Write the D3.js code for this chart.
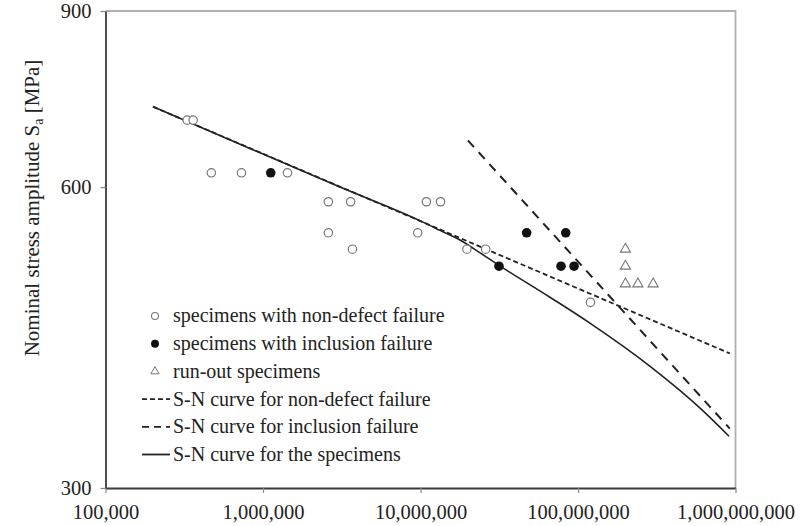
<!DOCTYPE html>
<html>
<head>
<meta charset="utf-8">
<script src="https://cdn.jsdelivr.net/npm/d3@7"></script>
<style>
  body { margin: 0; background: #fff; }
  text { font-family: "Liberation Serif", "Times New Roman", serif; }
</style>
</head>
<body>
<svg id="chart" width="811" height="526"></svg>
<script>
// Axis ticks
const xTicks = [1e5, 1e6, 1e7, 1e8, 1e9];
const yTicks = [300, 600, 900];

// Specimens with non-defect failure: cycles to failure, stress amplitude (MPa)
const nonDefectN = [3.3e5, 3.6e5, 4.7e5, 7.3e5, 1.43e6, 2.6e6, 3.6e6, 1.09e7, 1.34e7, 2.6e6, 3.7e6, 9.6e6, 1.97e7, 2.59e7, 1.2e8];
const nonDefectS = [700, 700, 620, 620, 620, 580, 580, 580, 580, 540, 520, 540, 520, 520, 460];

// Specimens with inclusion failure
const inclusionN = [1.12e6, 3.15e7, 4.72e7, 8.36e7, 7.8e7, 9.44e7];
const inclusionS = [620, 500, 540, 540, 500, 500];

// Run-out specimens
const runoutN = [2e8, 2e8, 2e8, 2.4e8, 3e8];
const runoutS = [520, 500, 480, 480, 480];

// S-N curves
const curveNonDefectN = [2e5, 9.2e8];
const curveNonDefectS = [722, 409];
const curveInclusionN = [2e7, 9.2e8];
const curveInclusionS = [668, 344];
const curveAllN = [2e5, 3e6, 1e7, 1.33e7, 1.86e7, 2.39e7, 3.15e7, 6.64e7, 1.19e8, 2.87e8, 5.96e8, 9.1e8];
const curveAllS = [722, 601, 555, 543, 529, 515.5, 501, 465.5, 438.6, 397, 360.6, 338];

// Legend entries
const legendLabels = [
  "specimens with non-defect failure",
  "specimens with inclusion failure",
  "run-out specimens",
  "S-N curve for non-defect failure",
  "S-N curve for inclusion failure",
  "S-N curve for the specimens"
];

const svg = d3.select("#chart");
const plotLeft = 105.5, plotRight = 735.5, plotTop = 11, plotBottom = 488;

const x = d3.scaleLog().domain([1e5, 1e9]).range([plotLeft, plotRight]);
const y = d3.scaleLog().domain([300, 900]).range([plotBottom, plotTop]);

const zip = (a, b) => a.map((v, i) => [v, b[i]]);

// Frame: light top/right borders
svg.append("path")
  .attr("d", `M${plotLeft},${plotTop}H${plotRight}V${plotBottom}`)
  .attr("fill", "none").attr("stroke", "#b0b0b0").attr("stroke-width", 1.8);

// Axes
const fmt = d3.format(",");
const xAxis = svg.append("g").attr("transform", `translate(0,${plotBottom})`)
  .call(d3.axisBottom(x).tickValues(xTicks).tickFormat(fmt).tickSize(5).tickSizeOuter(0));
const yAxis = svg.append("g").attr("transform", `translate(${plotLeft},0)`)
  .call(d3.axisLeft(y).tickValues(yTicks).tickFormat(d3.format("d")).tickSize(5).tickSizeOuter(0));

[xAxis, yAxis].forEach(g => {
  g.select(".domain").attr("stroke", "#3a3a3a").attr("stroke-width", 1.8);
  g.selectAll(".tick line").attr("stroke", "#888").attr("stroke-width", 1.2);
  g.selectAll(".tick text").attr("font-size", 20.5).attr("fill", "#222")
    .attr("font-family", "Liberation Serif");
});
xAxis.selectAll(".tick text").attr("dy", "1.1em");
yAxis.selectAll(".tick text").attr("x", -14).attr("dy", "0.3em");

// Y-axis title
const title = svg.append("text")
  .attr("transform", `translate(39,208) rotate(-90)`)
  .attr("text-anchor", "middle")
  .attr("font-size", 21).attr("fill", "#222");
title.append("tspan").text("Nominal stress amplitude S");
title.append("tspan").attr("font-size", 14).attr("dy", 4).text("a");
title.append("tspan").attr("dy", -4).text(" [MPa]");

// Curves
const line = d3.line().x(d => x(d[0])).y(d => y(d[1]));
const smooth = d3.line().x(d => x(d[0])).y(d => y(d[1])).curve(d3.curveMonotoneX);

svg.append("path").datum(zip(curveAllN, curveAllS))
  .attr("d", smooth).attr("fill", "none").attr("stroke", "#222").attr("stroke-width", 1.6);
svg.append("path").datum(zip(curveNonDefectN, curveNonDefectS))
  .attr("d", line).attr("fill", "none").attr("stroke", "#222").attr("stroke-width", 1.8)
  .attr("stroke-dasharray", "5,3");
svg.append("path").datum(zip(curveInclusionN, curveInclusionS))
  .attr("d", line).attr("fill", "none").attr("stroke", "#222").attr("stroke-width", 2)
  .attr("stroke-dasharray", "9,7");

// Markers
const r = 4.2;
svg.append("g").selectAll("circle").data(zip(nonDefectN, nonDefectS)).join("circle")
  .attr("cx", d => x(d[0])).attr("cy", d => y(d[1])).attr("r", r)
  .attr("fill", "#fff").attr("stroke", "#777").attr("stroke-width", 1.2);
svg.append("g").selectAll("circle").data(zip(inclusionN, inclusionS)).join("circle")
  .attr("cx", d => x(d[0])).attr("cy", d => y(d[1])).attr("r", r + 0.6)
  .attr("fill", "#111");
const tri = d3.symbol().type(d3.symbolTriangle).size(45);
svg.append("g").selectAll("path").data(zip(runoutN, runoutS)).join("path")
  .attr("transform", d => `translate(${x(d[0])},${y(d[1])})`)
  .attr("d", tri).attr("fill", "#fff").attr("stroke", "#777").attr("stroke-width", 1.1);

// Legend
const lg = svg.append("g");
const lx = 155, ly0 = 316, ldy = 27.7;
legendLabels.forEach((label, i) => {
  const yy = ly0 + i * ldy;
  if (i === 0) lg.append("circle").attr("cx", lx).attr("cy", yy).attr("r", 3.5)
    .attr("fill", "#fff").attr("stroke", "#777").attr("stroke-width", 1.1);
  if (i === 1) lg.append("circle").attr("cx", lx).attr("cy", yy).attr("r", 4).attr("fill", "#111");
  if (i === 2) lg.append("path").attr("transform", `translate(${lx},${yy})`)
    .attr("d", d3.symbol().type(d3.symbolTriangle).size(30)).attr("fill", "#fff")
    .attr("stroke", "#777").attr("stroke-width", 1);
  if (i >= 3) {
    const dash = i === 3 ? "5,3" : i === 4 ? "7,5" : null;
    lg.append("line").attr("x1", 142).attr("x2", 170).attr("y1", yy).attr("y2", yy)
      .attr("stroke", "#222").attr("stroke-width", 1.8).attr("stroke-dasharray", dash);
  }
  lg.append("text").attr("x", 173).attr("y", yy).attr("dy", "0.32em")
    .attr("font-size", 20).attr("fill", "#222").text(label);
});
</script>
</body>
</html>
